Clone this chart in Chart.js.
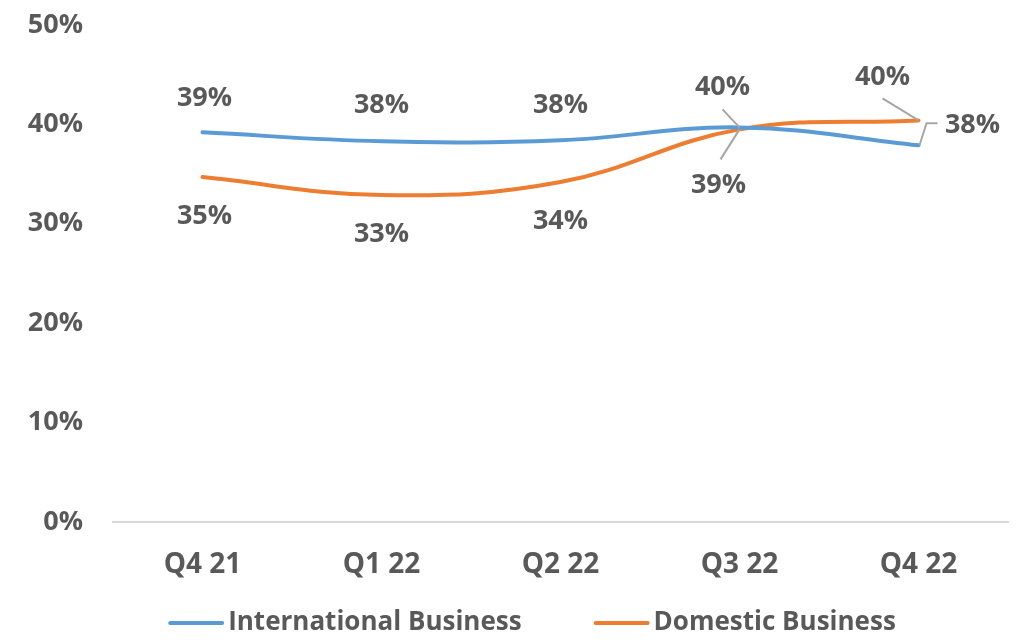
<!DOCTYPE html>
<html>
<head>
<meta charset="utf-8">
<script src="https://cdn.jsdelivr.net/npm/chart.js@4.4.0/dist/chart.umd.min.js"></script>
<style>
  html, body { margin: 0; padding: 0; background: #fff; }
  #wrap { width: 1025px; height: 643px; }
</style>
</head>
<body>
<div id="wrap"><canvas id="chart"></canvas></div>
<script>
// data (percent)
const quarters = ["Q4 21", "Q1 22", "Q2 22", "Q3 22", "Q4 22"];
const international = [39.2, 38.3, 38.4, 39.7, 37.9];
const domestic = [34.7, 32.9, 34.2, 39.5, 40.4];
const internationalLabels = ["39%", "38%", "38%", "40%", "38%"];
const domesticLabels = ["35%", "33%", "34%", "39%", "40%"];
const yTicks = [0, 10, 20, 30, 40, 50];

const textColor = "#595959";
const fontFamily = "'Open Sans', 'Noto Sans', sans-serif";

// where each data label sits relative to its point, plus optional leader line
const labelPlacement = [
  [ {dx: 2, dy: -34}, {dx: 0, dy: -36}, {dx: 0, dy: -35},
    {dx: -17, dy: -40, leader: [[-17, -18], [0, 0]]},
    {dx: 54, dy: -20, leader: [[19, -22], [8, -22], [1, 0]]} ],
  [ {dx: 2, dy: 39}, {dx: 0, dy: 39}, {dx: 0, dy: 39},
    {dx: -21, dy: 56, leader: [[-19, 30], [0, 0]]},
    {dx: -36, dy: -43, leader: [[-36, -22], [0, 0]]} ]
];

const dataLabels = {
  id: "dataLabels",
  afterDatasetsDraw(chart) {
    const ctx = chart.ctx;
    ctx.save();
    chart.data.datasets.forEach((ds, i) => {
      const meta = chart.getDatasetMeta(i);
      meta.data.forEach((pt, j) => {
        const p = labelPlacement[i][j];
        if (p.leader) {
          ctx.strokeStyle = "#A6A6A6";
          ctx.lineWidth = 2;
          ctx.beginPath();
          p.leader.forEach((q, k) => {
            if (k === 0) ctx.moveTo(pt.x + q[0], pt.y + q[1]);
            else ctx.lineTo(pt.x + q[0], pt.y + q[1]);
          });
          ctx.stroke();
        }
        ctx.fillStyle = textColor;
        ctx.font = "bold 27px " + fontFamily;
        ctx.textAlign = "center";
        ctx.textBaseline = "middle";
        ctx.fillText(ds.labels[j], pt.x + p.dx, pt.y + p.dy);
      });
    });
    ctx.restore();
  }
};

// bottom legend: line swatch + text, centred around x=532
const bottomLegend = {
  id: "bottomLegend",
  afterDraw(chart) {
    const ctx = chart.ctx;
    const y = 623, lineW = 56, gapIn = 4, gapOut = 72;
    ctx.save();
    ctx.font = "bold 26px " + fontFamily;
    const items = chart.data.datasets.map(ds => ({ ds, w: ctx.measureText(ds.label).width }));
    const total = items.reduce((s, it) => s + lineW + gapIn + it.w, 0) + gapOut * (items.length - 1);
    let x = 532 - total / 2;
    items.forEach(it => {
      ctx.strokeStyle = it.ds.borderColor;
      ctx.lineWidth = 4;
      ctx.lineCap = "round";
      ctx.beginPath();
      ctx.moveTo(x + 2, y);
      ctx.lineTo(x + lineW - 2, y);
      ctx.stroke();
      x += lineW + gapIn;
      ctx.fillStyle = textColor;
      ctx.textAlign = "left";
      ctx.textBaseline = "middle";
      ctx.fillText(it.ds.label, x, y);
      x += it.w + gapOut;
    });
    ctx.restore();
  }
};

new Chart(document.getElementById("chart"), {
  type: "line",
  data: {
    labels: quarters,
    datasets: [
      { label: "International Business", data: international, labels: internationalLabels,
        borderColor: "#5B9BD5", backgroundColor: "#5B9BD5" },
      { label: "Domestic Business", data: domestic, labels: domesticLabels,
        borderColor: "#ED7D31", backgroundColor: "#ED7D31" }
    ]
  },
  options: {
    responsive: true,
    maintainAspectRatio: false,
    animation: false,
    layout: { padding: { left: 0, right: 17, top: 25, bottom: 61 } },
    elements: {
      line: { borderWidth: 4, tension: 0.4, borderCapStyle: "round" },
      point: { radius: 0, hoverRadius: 0 }
    },
    scales: {
      x: {
        offset: true,
        afterFit: s => { s.height = 60; },
        grid: { display: false, drawTicks: false },
        border: { display: true, color: "#D9D9D9", width: 2 },
        ticks: { color: textColor, font: { family: fontFamily, size: 28, weight: "bold" }, padding: 26 }
      },
      y: {
        min: 0, max: 50,
        afterBuildTicks: s => { s.ticks = yTicks.map(v => ({ value: v })); },
        afterFit: s => { s.width = 113; s.paddingTop = 0; s.paddingBottom = 0; },
        grid: { display: false, drawTicks: false },
        border: { display: false },
        ticks: {
          color: textColor, padding: 30,
          font: { family: fontFamily, size: 27, weight: "bold" },
          callback: v => v + "%"
        }
      }
    },
    plugins: {
      tooltip: { enabled: false },
      legend: { display: false }
    }
  },
  plugins: [dataLabels, bottomLegend]
});
</script>
</body>
</html>
